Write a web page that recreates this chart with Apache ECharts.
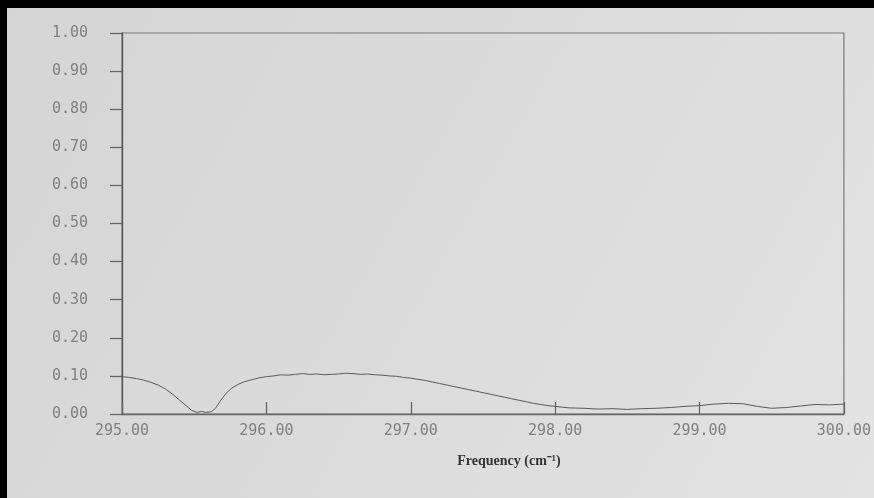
<!DOCTYPE html>
<html>
<head>
<meta charset="utf-8">
<script src="https://cdn.jsdelivr.net/npm/echarts@6/dist/echarts.min.js"></script>
<style>
html,body{margin:0;padding:0;background:#000;}
#c{width:874px;height:498px;}
</style>
</head>
<body>
<div id="c"></div>
<script>
var frequency = [295.00,295.05,295.10,295.15,295.20,295.25,295.30,295.35,295.40,295.45,295.48,295.52,295.55,295.58,295.62,295.65,295.68,295.72,295.76,295.80,295.85,295.90,295.95,296.00,296.05,296.10,296.15,296.20,296.25,296.30,296.35,296.40,296.45,296.50,296.55,296.60,296.65,296.70,296.75,296.80,296.85,296.90,296.95,297.00,297.05,297.10,297.15,297.20,297.25,297.30,297.35,297.40,297.45,297.50,297.55,297.60,297.65,297.70,297.75,297.80,297.85,297.90,297.95,298.00,298.05,298.10,298.20,298.30,298.40,298.50,298.60,298.70,298.80,298.90,299.00,299.10,299.20,299.30,299.40,299.50,299.60,299.70,299.80,299.90,300.00];
var signal = [0.098,0.096,0.093,0.089,0.083,0.076,0.066,0.052,0.036,0.020,0.010,0.004,0.007,0.004,0.006,0.016,0.034,0.054,0.068,0.077,0.085,0.090,0.095,0.098,0.100,0.103,0.102,0.104,0.106,0.104,0.105,0.103,0.104,0.105,0.107,0.106,0.104,0.105,0.103,0.102,0.100,0.099,0.096,0.094,0.091,0.088,0.084,0.080,0.076,0.072,0.068,0.064,0.060,0.056,0.052,0.048,0.044,0.040,0.036,0.032,0.028,0.025,0.022,0.020,0.018,0.016,0.015,0.013,0.014,0.012,0.014,0.015,0.017,0.020,0.022,0.026,0.028,0.027,0.020,0.015,0.017,0.021,0.025,0.024,0.026];
var xTicks = {min: 295, max: 300, interval: 1};
var yTicks = {min: 0, max: 1, interval: 0.1};
var xName = 'Frequency (cm\u207B\u00B9)';

var pts = frequency.map(function(f, i){ return [f, signal[i]]; });
var chart = echarts.init(document.getElementById('c'));
chart.setOption({
  backgroundColor: '#000',
  animation: false,
  graphic: [{
    type: 'rect', z: -10, silent: true,
    shape: {x: 7, y: 8, width: 867, height: 490},
    style: {fill: new echarts.graphic.LinearGradient(0, 0, 1, 1, [
      {offset: 0, color: '#d4d5d4'}, {offset: 0.5, color: '#dadbda'}, {offset: 1, color: '#e2e3e2'}])}
  }],
  grid: {left: 122, right: 24, top: 33, bottom: 84, show: true, borderColor: '#7a7a7a', borderWidth: 1.2, backgroundColor: 'transparent'},
  xAxis: {
    type: 'value', min: xTicks.min, max: xTicks.max, interval: xTicks.interval,
    name: xName, nameLocation: 'middle', nameGap: 40,
    nameTextStyle: {fontFamily: 'Liberation Serif', fontWeight: 'bold', fontSize: 14, color: '#333', padding: [0, 0, 0, 52]},
    axisLine: {show: true, lineStyle: {color: '#666', width: 1.3}},
    axisTick: {show: true, inside: true, length: 12, lineStyle: {color: '#666', width: 1.3}},
    axisLabel: {margin: 10, fontFamily: 'DejaVu Sans Mono', fontSize: 15, color: '#808080',
      formatter: function(v){ return v.toFixed(2); }},
    splitLine: {show: false}
  },
  yAxis: {
    type: 'value', min: yTicks.min, max: yTicks.max, interval: yTicks.interval,
    axisLine: {show: true, lineStyle: {color: '#555', width: 1.3}},
    axisTick: {show: true, length: 12, lineStyle: {color: '#666', width: 1.3}},
    axisLabel: {margin: 34, fontFamily: 'DejaVu Sans Mono', fontSize: 15, color: '#808080',
      formatter: function(v){ return v.toFixed(2); }},
    splitLine: {show: false}
  },
  series: [{
    type: 'line', data: pts, showSymbol: false, smooth: false,
    lineStyle: {color: '#5a5a5a', width: 1}
  }]
});
</script>
</body>
</html>
